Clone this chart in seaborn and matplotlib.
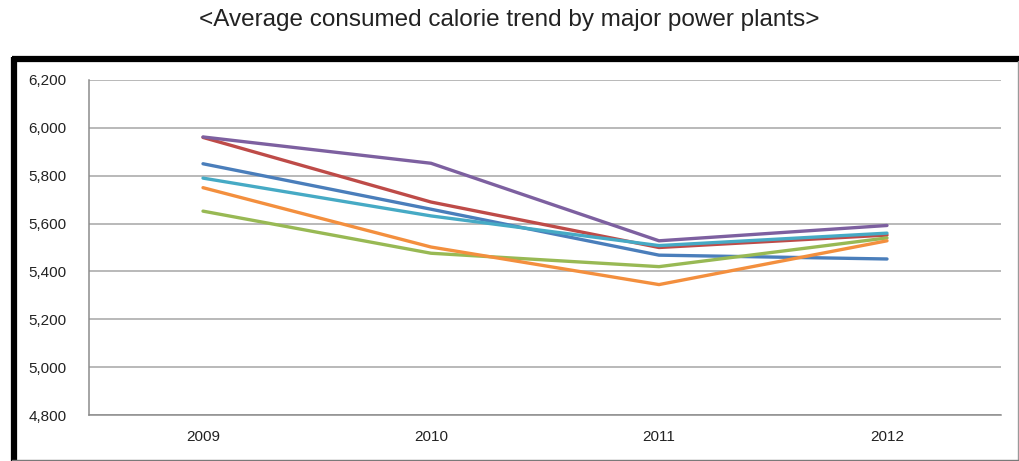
import matplotlib
matplotlib.use("Agg")
import matplotlib.pyplot as plt
from matplotlib.lines import Line2D
from matplotlib.ticker import FixedLocator, FuncFormatter
import seaborn as sns
import pandas as pd

# Average consumed calorie per plant, 2009-2012
years = ["2009", "2010", "2011", "2012"]
plant_a = [5850, 5660, 5468, 5452]   # blue
plant_b = [5960, 5690, 5500, 5552]   # red
plant_c = [5652, 5476, 5420, 5540]   # green
plant_d = [5962, 5852, 5528, 5592]   # purple
plant_e = [5790, 5632, 5508, 5560]   # teal
plant_f = [5750, 5502, 5345, 5528]   # orange

series = {
    "Plant A": plant_a,
    "Plant B": plant_b,
    "Plant C": plant_c,
    "Plant D": plant_d,
    "Plant E": plant_e,
    "Plant F": plant_f,
}
colors = ["#4A7EBB", "#BE4B48", "#98B954", "#7D60A0", "#46AAC5", "#F38F3E"]

rows = []
for name, vals in series.items():
    for i, v in enumerate(vals):
        rows.append({"plant": name, "pos": i, "value": v})
df = pd.DataFrame(rows)

sns.set_theme(style="white")
plt.rcParams["font.family"] = ["Liberation Sans", "DejaVu Sans"]

fig = plt.figure(figsize=(10.19, 4.61), dpi=100)
ax = fig.add_axes([89 / 1019, 1 - 415 / 461, (1001 - 89) / 1019, (415 - 80) / 461])

sns.lineplot(data=df, x="pos", y="value", hue="plant", palette=colors,
             linewidth=2.4, legend=False, ax=ax, sort=False)

ax.set_xlim(-0.5, len(years) - 0.5)
ax.set_ylim(4800, 6200)
ax.set_xlabel("")
ax.set_ylabel("")

# value axis
ax.yaxis.set_major_locator(FixedLocator(range(4800, 6201, 200)))
ax.yaxis.set_major_formatter(FuncFormatter(lambda v, p: f"{int(v):,}"))
ax.grid(axis="y", color="#A6A6A6", linewidth=1.1)
ax.grid(axis="x", visible=False)
ax.set_axisbelow(True)

# category axis: labels centred, tick marks between categories
ax.set_xticks(range(len(years)))
ax.set_xticklabels(years)
ax.set_xticks([i - 0.5 for i in range(len(years) + 1)], minor=True)
ax.tick_params(axis="x", which="major", length=0, pad=11, labelsize=11, labelcolor="#222222")
ax.tick_params(axis="x", which="minor", length=5, width=1, color="#8C8C8C", direction="out")
ax.tick_params(axis="y", which="major", length=6, width=1, color="#8C8C8C", direction="out",
               pad=10, labelsize=11, labelcolor="#222222")

for side in ("top", "right"):
    ax.spines[side].set_visible(False)
for side in ("left", "bottom"):
    ax.spines[side].set_color("#8C8C8C")
    ax.spines[side].set_linewidth(1.1)

# outer chart frame
W, H = 1019, 461
def fx(x):
    return x / W
def fy(y):
    return 1 - y / H
fig.add_artist(Line2D([fx(12), fx(1019)], [fy(59), fy(59)], color="black",
                      linewidth=4.5, solid_capstyle="butt"))
fig.add_artist(Line2D([fx(14), fx(14)], [fy(57), fy(461)], color="black",
                      linewidth=4.5, solid_capstyle="butt"))
fig.add_artist(Line2D([fx(1018), fx(1018)], [fy(61), fy(461)], color="#9A9A9A", linewidth=1))
fig.add_artist(Line2D([fx(12), fx(1019)], [fy(459.5), fy(459.5)], color="#7A7A7A", linewidth=1))

fig.text(0.5, fy(20), "<Average consumed calorie trend by major power plants>",
         ha="center", va="center", fontsize=17.5, color="#222222")

fig.savefig("out.png", dpi=100)
